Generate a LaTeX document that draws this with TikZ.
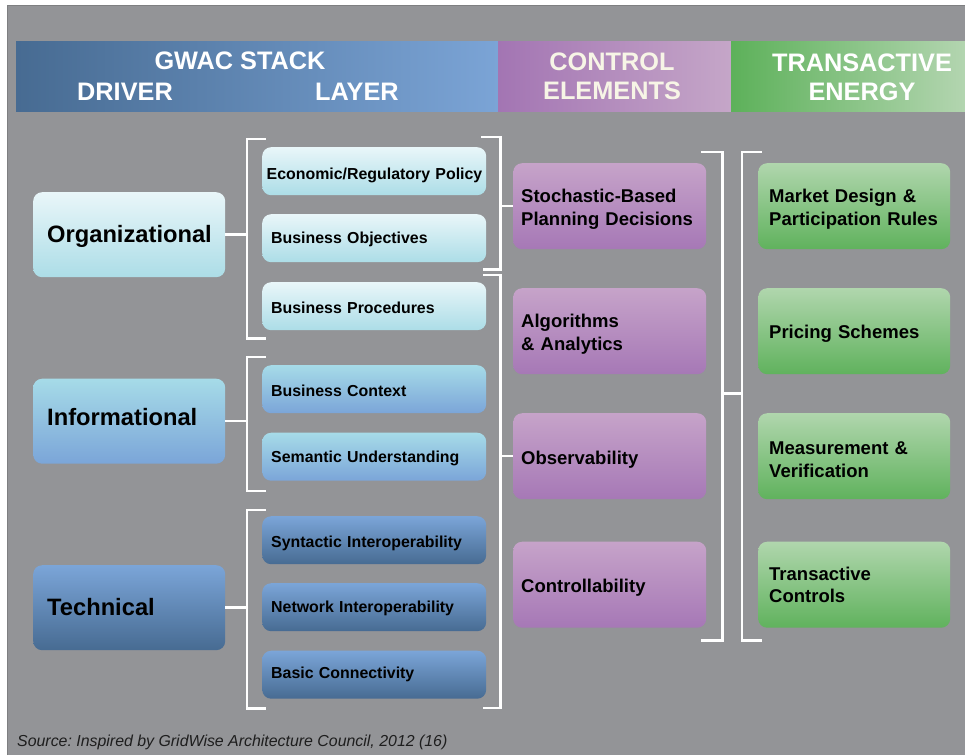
\documentclass[tikz,border=0pt]{standalone}
\usepackage{fontspec}
\setmainfont{Liberation Sans}
\usetikzlibrary{calc}
\frenchspacing
\definecolor{bg}{HTML}{939497}
\definecolor{bgline}{HTML}{7E7F81}
\definecolor{hbL}{HTML}{476B92}
\definecolor{hbR}{HTML}{7BA4D6}
\definecolor{hpL}{HTML}{A375B3}
\definecolor{hpR}{HTML}{C5A6C8}
\definecolor{hgL}{HTML}{5DB15A}
\definecolor{hgR}{HTML}{B3D5B0}
\definecolor{cream}{HTML}{F7F5E6}
\definecolor{orgT}{HTML}{E9F6F9}
\definecolor{orgB}{HTML}{ACDDE7}
\definecolor{infT}{HTML}{A6DBE8}
\definecolor{infB}{HTML}{7BA5D8}
\definecolor{tecT}{HTML}{7BA5D8}
\definecolor{tecB}{HTML}{476B92}
\definecolor{purT}{HTML}{C6A3C9}
\definecolor{purB}{HTML}{A678B6}
\definecolor{grnT}{HTML}{B0D6AD}
\definecolor{grnB}{HTML}{60B25D}
\definecolor{srcc}{HTML}{1E1E1E}
\begin{document}
\begin{tikzpicture}[x=1pt,y=1pt,
  box/.style={rounded corners=9pt, inner ysep=0pt, anchor=north west, align=left, text=black},
  lbox/.style={box, text width=164pt, inner xsep=14pt, minimum height=85pt,
    font=\fontsize{23.7}{28}\bfseries\selectfont, text height=17pt, text depth=5pt},
  mbox/.style={box, text width=206pt, inner xsep=9pt, minimum height=48pt,
    font=\fontsize{15.9}{18}\bfseries\selectfont, text height=14.5pt},
  cbox/.style={box, text width=177pt, inner xsep=8pt, minimum height=86pt,
    font=\fontsize{18.5}{22.5}\bfseries\selectfont, top color=purT, bottom color=purB,
    text height=19.5pt},
  gbox/.style={box, text width=170pt, inner xsep=11pt, minimum height=86pt,
    font=\fontsize{18.5}{22.5}\bfseries\selectfont, top color=grnT, bottom color=grnB,
    text height=19.5pt},
  orgc/.style={top color=orgT, bottom color=orgB},
  infc/.style={top color=infT, bottom color=infB},
  tecc/.style={top color=tecT, bottom color=tecB},
  hbar/.style={anchor=north west, inner sep=0pt, minimum height=70pt},
  htext/.style={font=\fontsize{25.3}{30}\bfseries\selectfont, inner sep=0pt},
  br/.style={draw=white, line width=2.5pt}
]
\useasboundingbox (0,0) rectangle (965,-755);
\fill[white] (0,0) rectangle (965,-755);
\fill[bg] (7,-5) rectangle (965,-755);
\draw[bgline, line width=1.2pt] (7.6,-755) -- (7.6,-5.6) -- (965,-5.6);

% header bars
\node[hbar, minimum width=482pt, left color=hbL, right color=hbR] (hb) at (16,-41) {};
\node[hbar, minimum width=233pt, left color=hpL, right color=hpR] (hp) at (498,-41) {};
\node[hbar, minimum width=234pt, left color=hgL, right color=hgR] (hg) at (731,-41) {};
\node[htext, text=white, anchor=base] (gwac) at (240,-69) {GWAC STACK};
\node[htext, text=white, anchor=base west] (driver) at (77,-100) {DRIVER};
\node[htext, text=white, anchor=base west] (layer) at (315,-100) {LAYER};
\node[htext, text=cream, anchor=base] (control) at (612,-70) {CONTROL};
\node[htext, text=cream, anchor=base] (elements) at (612,-99) {ELEMENTS};
\node[htext, text=white, anchor=base] (trans) at (862,-71) {TRANSACTIVE};
\node[htext, text=white, anchor=base] (energy) at (862,-100) {ENERGY};

% left column
\node[lbox, orgc, text height=20.5pt] (org) at (33,-192) {Organizational};
\node[lbox, infc, text depth=8.5pt] (inf) at (33,-378.5) {Informational};
\node[lbox, tecc, text height=20.5pt] (tec) at (33,-565) {Technical};

% middle column
\node[mbox, orgc, inner xsep=4.5pt, text width=215pt, text height=19.5pt] (econ) at (262,-147) {\mbox{Economic/Regulatory Policy}};
\node[mbox, orgc] (obj) at (262,-214) {Business Objectives};
\node[mbox, orgc] (proc) at (262,-282) {Business Procedures};
\node[mbox, infc] (ctx) at (262,-365) {Business Context};
\node[mbox, infc] (sem) at (262,-432.5) {Semantic Understanding};
\node[mbox, tecc, text height=17.5pt] (syn) at (262,-516) {Syntactic Interoperability};
\node[mbox, tecc] (net) at (262,-583) {Network Interoperability};
\node[mbox, tecc, text height=11.5pt] (basic) at (262,-650.5) {Basic Connectivity};

% control elements
\node[cbox] (stoch) at (513,-163) {Stochastic-Based\\Planning Decisions};
\node[cbox] (alg) at (513,-288) {Algorithms\\\& Analytics};
\node[cbox] (obs) at (513,-413) {Observability};
\node[cbox] (ctrl) at (513,-541.5) {Controllability};

% transactive energy
\node[gbox] (market) at (758,-163) {Market Design \&\\Participation Rules};
\node[gbox] (price) at (758,-288) {Pricing Schemes};
\node[gbox] (meas) at (758,-413) {Measurement \&\\Verification};
\node[gbox, text height=14pt] (tctrl) at (758,-541.5) {Transactive\\Controls};

% brackets: driver -> layer
\draw[br] ([xshift=4pt,yshift=8pt]econ.north west) -- ++(-19pt,0) |- ([xshift=4pt,yshift=-8pt]proc.south west);
\draw[br] (org.east) -- ++(22pt,0);
\draw[br] ([xshift=4pt,yshift=8pt]ctx.north west) -- ++(-19pt,0) |- ([xshift=4pt,yshift=-10pt]sem.south west);
\draw[br] (inf.east) -- ++(22pt,0);
\draw[br] ([xshift=4pt,yshift=6pt]syn.north west) -- ++(-19pt,0) |- ([xshift=4pt,yshift=-9.5pt]basic.south west);
\draw[br] (tec.east) -- ++(22pt,0);

% brackets: layer -> control elements
\draw[br] ([xshift=-5pt,yshift=10pt]econ.north east) -- ++(19pt,0) |- ([xshift=-3pt,yshift=-7pt]obj.south east);
\draw[br] (stoch.west) -- ++(-14pt,0);
\draw[br] ([xshift=-3pt,yshift=7pt]proc.north east) -- ++(17pt,0) |- ([xshift=-3pt,yshift=-9pt]basic.south east);
\draw[br] (obs.west) -- ++(-14pt,0);

% brackets: control elements -> transactive energy
\draw[br] ([xshift=-5pt,yshift=11pt]stoch.north east) -- ++(21pt,0) |- ([xshift=-5pt,yshift=-12.5pt]ctrl.south east);
\draw[br] ([xshift=4pt,yshift=11pt]market.north west) -- ++(-20pt,0) |- ([xshift=4pt,yshift=-12.5pt]tctrl.south west);
\draw[br] ([xshift=16pt]$(alg.south east)!0.5!(obs.north east)$) -- ++(20pt,0);

% source
\node[anchor=base west, inner sep=0pt, text=srcc, font=\fontsize{15.9}{18}\itshape\selectfont] (src) at (17,-746) {Source: Inspired by GridWise Architecture Council, 2012 (16)};
\end{tikzpicture}
\end{document}
